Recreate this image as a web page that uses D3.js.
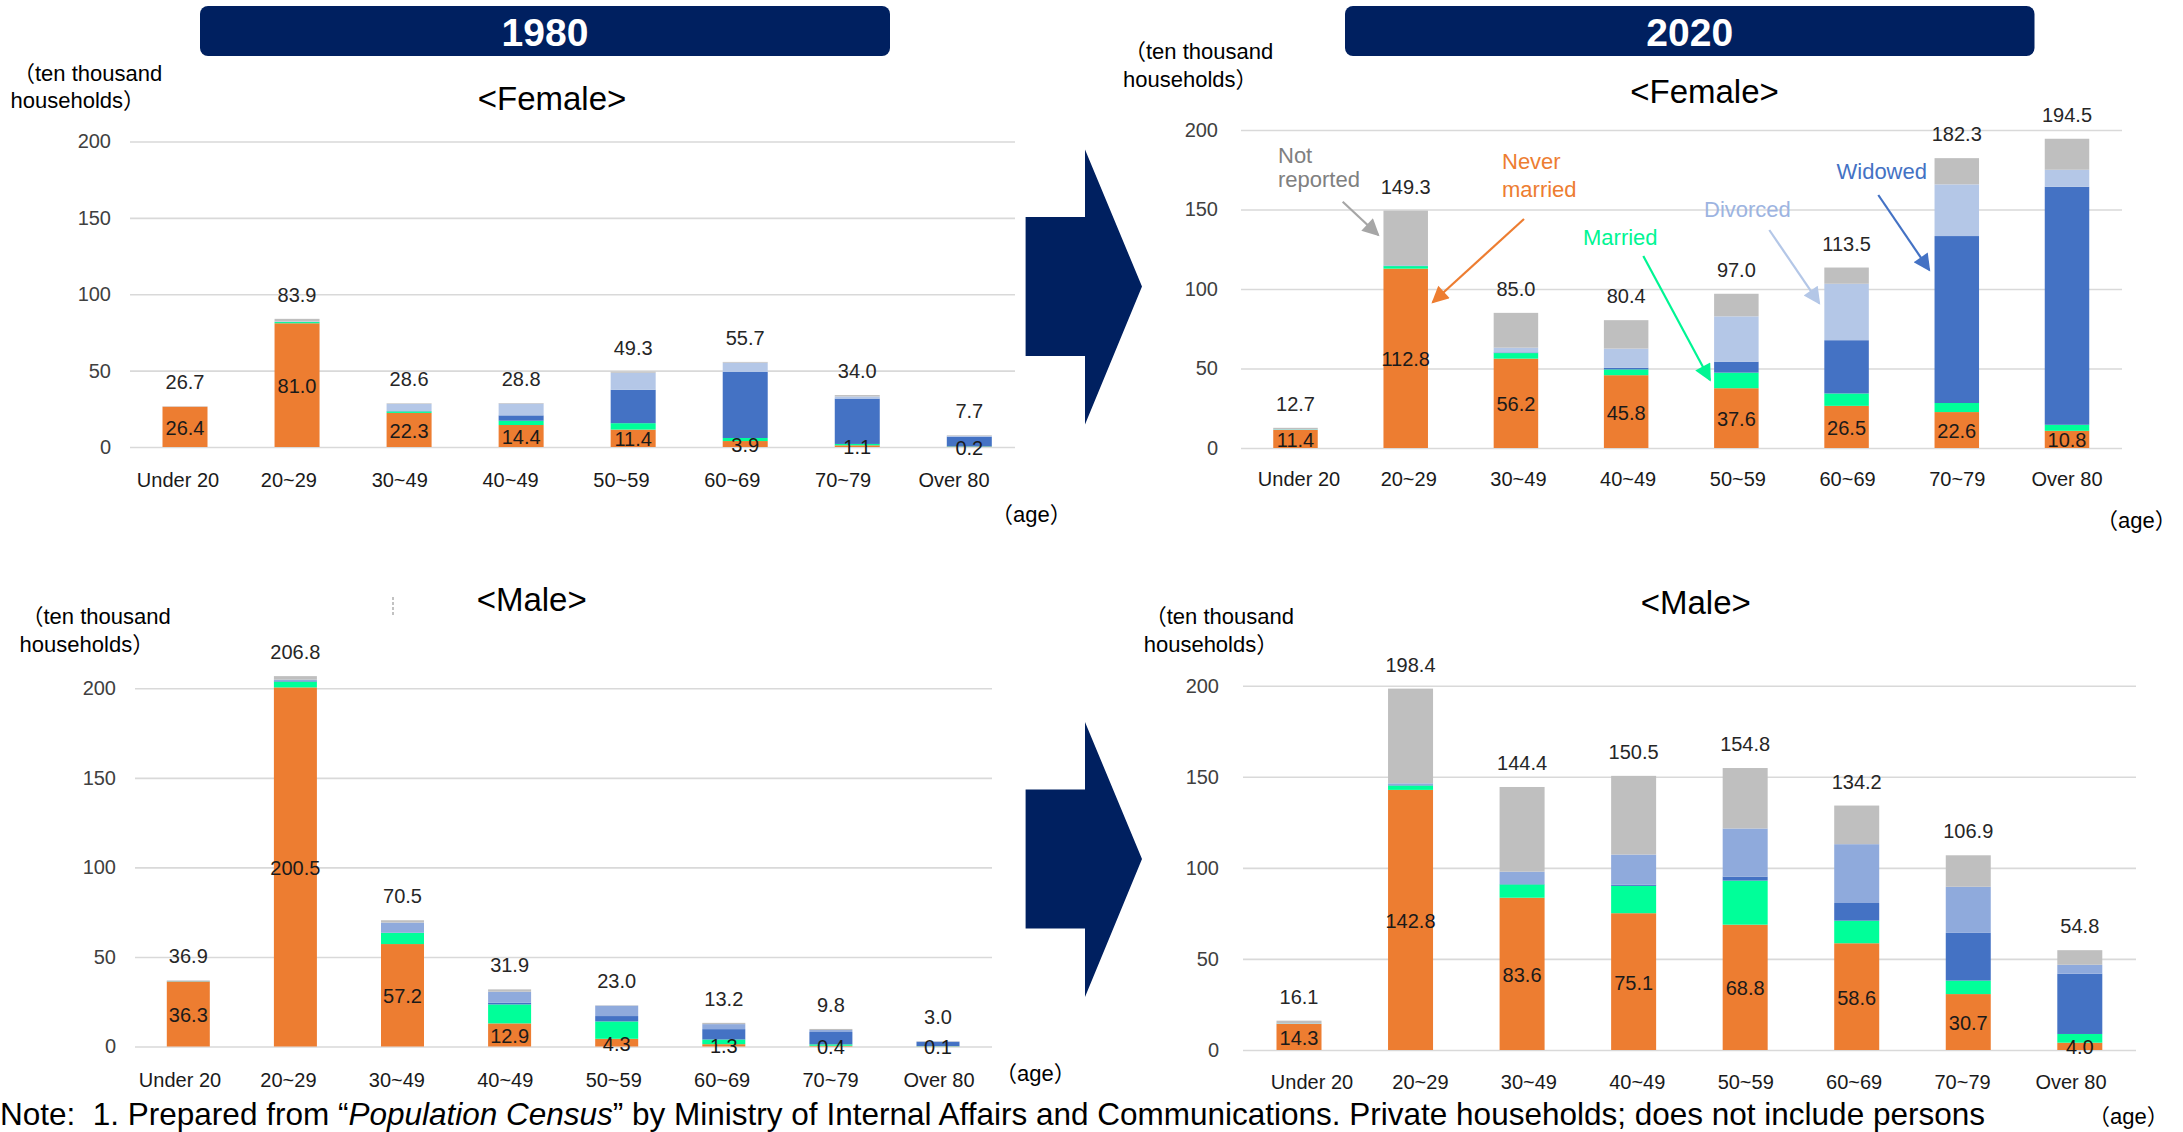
<!DOCTYPE html>
<html>
<head>
<meta charset="utf-8">
<script src="https://cdn.jsdelivr.net/npm/d3@7"></script>
<style>
  body { margin: 0; background: #fff; }
  text { font-family: 'Liberation Sans', Arial, 'Noto Sans CJK JP', sans-serif; }
</style>
</head>
<body>
<div id="chart"></div>
<script>
// categories
var ages = ["Under 20", "20~29", "30~49", "40~49", "50~59", "60~69", "70~79", "Over 80"];
var statuses = ["Never married", "Married", "Widowed", "Divorced", "Not reported"];
var yTicks = [0, 50, 100, 150, 200];

// 1980 female (ten thousand households)
var f1980NeverMarried = [26.4, 81.0, 22.3, 14.4, 11.4, 3.9, 1.1, 0.2];
var f1980Married      = [0.0, 0.8, 1.0, 2.8, 4.2, 2.0, 0.9, 0.2];
var f1980Widowed      = [0.0, 0.1, 0.2, 3.5, 21.8, 43.2, 29.7, 6.4];
var f1980Divorced     = [0.1, 0.3, 4.7, 7.7, 11.2, 6.1, 1.4, 0.5];
var f1980NotReported  = [0.2, 1.7, 0.4, 0.4, 0.7, 0.5, 0.9, 0.4];

// 2020 female
var f2020NeverMarried = [11.4, 112.8, 56.2, 45.8, 37.6, 26.5, 22.6, 10.8];
var f2020Married      = [0.2, 1.6, 3.5, 3.6, 9.8, 7.8, 5.7, 3.8];
var f2020Widowed      = [0.0, 0.3, 0.4, 1.1, 6.9, 33.5, 105.0, 149.7];
var f2020Divorced     = [0.3, 0.2, 3.0, 12.0, 28.5, 35.5, 32.5, 10.7];
var f2020NotReported  = [0.8, 34.4, 21.9, 17.9, 14.2, 10.2, 16.5, 19.5];

// 1980 male
var m1980NeverMarried = [36.3, 200.5, 57.2, 12.9, 4.3, 1.3, 0.4, 0.1];
var m1980Married      = [0.1, 3.2, 6.2, 10.6, 9.7, 2.6, 0.8, 0.1];
var m1980Widowed      = [0.0, 0.3, 0.2, 1.0, 3.0, 5.8, 6.9, 2.3];
var m1980Divorced     = [0.3, 0.8, 5.6, 6.1, 5.8, 2.8, 1.1, 0.3];
var m1980NotReported  = [0.2, 2.0, 1.3, 1.3, 0.2, 0.7, 0.6, 0.2];

// 2020 male
var m2020NeverMarried = [14.3, 142.8, 83.6, 75.1, 68.8, 58.6, 30.7, 4.0];
var m2020Married      = [0.1, 2.4, 7.3, 15.0, 24.2, 12.4, 7.4, 4.8];
var m2020Widowed      = [0.0, 0.2, 0.2, 0.7, 2.2, 9.7, 26.2, 33.1];
var m2020Divorced     = [0.2, 1.0, 6.8, 16.5, 26.4, 32.3, 25.3, 4.9];
var m2020NotReported  = [1.5, 52.0, 46.5, 43.2, 33.2, 21.2, 17.3, 8.0];

var navy = "#002060";
var colors = {"Never married": "#ED7D31", "Married": "#00FF99", "Widowed": "#4472C4", "Not reported": "#BFBFBF"};

var svg = d3.select("#chart").append("svg")
            .attr("width", 2183)
            .attr("height", 1132)
            .style("background", "white");

function rows(nm, ma, wi, di, nr){
  return ages.map(function(a, i){
    return {age: a, "Never married": nm[i], "Married": ma[i], "Widowed": wi[i], "Divorced": di[i], "Not reported": nr[i]};
  });
}

var panels = [
  {title: "<Female>", titleX: 552, titleY: 110, data: rows(f1980NeverMarried, f1980Married, f1980Widowed, f1980Divorced, f1980NotReported),
   y0: 447, y200: 141.5, bars: [185, 969.3], bw: 45, labels: [178, 954], labelY: 487, grid: [130, 1015], tickX: 111,
   unit: [13, 81, 10.5, 108], age: [991, 522], div: "#B4C7E7"},
  {title: "<Female>", titleX: 1704.5, titleY: 103, data: rows(f2020NeverMarried, f2020Married, f2020Widowed, f2020Divorced, f2020NotReported),
   y0: 448, y200: 130, bars: [1295.5, 2067], bw: 44.5, labels: [1299, 2067], labelY: 486, grid: [1241, 2122], tickX: 1218,
   unit: [1124, 59, 1123, 87], age: [2096, 528], div: "#B4C7E7"},
  {title: "<Male>", titleX: 531.7, titleY: 611, data: rows(m1980NeverMarried, m1980Married, m1980Widowed, m1980Divorced, m1980NotReported),
   y0: 1046.5, y200: 688.3, bars: [188.3, 938], bw: 43, labels: [180, 939], labelY: 1087, grid: [135, 992], tickX: 116,
   unit: [21.5, 624, 19.6, 652], age: [995, 1081], div: "#8FAADC"},
  {title: "<Male>", titleX: 1695.8, titleY: 614, data: rows(m2020NeverMarried, m2020Married, m2020Widowed, m2020Divorced, m2020NotReported),
   y0: 1050, y200: 685.7, bars: [1299, 2079.8], bw: 45, labels: [1312, 2071], labelY: 1089, grid: [1243, 2136], tickX: 1219,
   unit: [1144.7, 624, 1143.7, 652], age: [2088, 1124], div: "#8FAADC"}
];

function drawPanel(p){
  var g = svg.append("g");
  var y = d3.scaleLinear().domain([0, 200]).range([p.y0, p.y200]);
  var x = d3.scalePoint().domain(ages).range(p.bars);
  var xl = d3.scalePoint().domain(ages).range(p.labels);

  //gridlines + tick labels
  var axis = g.append("g")
              .attr("transform", "translate(" + p.grid[0] + ",0)")
              .call(d3.axisLeft(y).tickValues(yTicks)
                      .tickSize(-(p.grid[1] - p.grid[0]))
                      .tickPadding(p.grid[0] - p.tickX));
  axis.select(".domain").remove();
  axis.selectAll(".tick line").attr("stroke", "#D9D9D9").attr("stroke-width", 1.6);
  axis.selectAll(".tick text").attr("font-size", 20).attr("fill", "#404040")
      .attr("font-family", "'Liberation Sans', Arial, sans-serif");

  //stacked bars
  var series = d3.stack().keys(statuses)(p.data);
  g.selectAll("g.layer").data(series).enter().append("g")
     .attr("fill", function(d){ return d.key == "Divorced" ? p.div : colors[d.key]; })
     .selectAll("rect").data(function(d){ return d; }).enter().append("rect")
       .attr("x", function(d){ return x(d.data.age) - p.bw / 2; })
       .attr("width", p.bw)
       .attr("y", function(d){ return y(d[1]); })
       .attr("height", function(d){ return y(d[0]) - y(d[1]); });

  //never married values inside the orange part
  g.selectAll("text.nm").data(series[0]).enter().append("text")
     .attr("x", function(d){ return x(d.data.age); })
     .attr("y", function(d){ return (y(d[0]) + y(d[1])) / 2 + 1; })
     .attr("dy", "0.35em")
     .attr("text-anchor", "middle")
     .attr("font-size", 20)
     .attr("fill", "#1a1a1a")
     .text(function(d){ return d.data["Never married"].toFixed(1); });

  //totals
  g.selectAll("text.tot").data(p.data).enter().append("text")
     .attr("x", function(d){ return x(d.age); })
     .attr("y", function(d){ return y(d3.sum(statuses, function(k){ return d[k]; })) - 17; })
     .attr("text-anchor", "middle")
     .attr("font-size", 20)
     .attr("fill", "#262626")
     .text(function(d){ return d3.sum(statuses, function(k){ return d[k]; }).toFixed(1); });

  //category labels
  g.selectAll("text.cat").data(ages).enter().append("text")
     .attr("x", function(d){ return xl(d); })
     .attr("y", p.labelY)
     .attr("text-anchor", "middle")
     .attr("font-size", 20)
     .attr("fill", "#1a1a1a")
     .text(function(d){ return d; });

  //titles and units
  g.append("text").attr("x", p.titleX).attr("y", p.titleY)
     .attr("text-anchor", "middle").attr("font-size", 33).attr("fill", "#000")
     .text(p.title);
  g.append("text").attr("x", p.unit[0]).attr("y", p.unit[1])
     .attr("font-size", 22).attr("fill", "#000").text("（ten thousand");
  g.append("text").attr("x", p.unit[2]).attr("y", p.unit[3])
     .attr("font-size", 22).attr("fill", "#000").text("households）");
  g.append("text").attr("x", p.age[0]).attr("y", p.age[1])
     .attr("font-size", 22).attr("fill", "#000").text("（age）");
}

panels.forEach(drawPanel);

//year banners
var years = [{label: "1980", x: 200, w: 690}, {label: "2020", x: 1345, w: 689.5}];
var banner = svg.selectAll("g.banner").data(years).enter().append("g");
banner.append("rect")
      .attr("x", function(d){ return d.x; }).attr("y", 6)
      .attr("width", function(d){ return d.w; }).attr("height", 50)
      .attr("rx", 8).attr("fill", navy);
banner.append("text")
      .attr("x", function(d){ return d.x + d.w / 2; }).attr("y", 46)
      .attr("text-anchor", "middle").attr("font-size", 39).attr("font-weight", "bold")
      .attr("fill", "#fff").text(function(d){ return d.label; });

//big arrows between panels
[286.5, 859].forEach(function(cy){
  svg.append("polygon")
     .attr("points", [[1025.6, cy - 69.5], [1085, cy - 69.5], [1085, cy - 137], [1142, cy],
                      [1085, cy + 138], [1085, cy + 69.5], [1025.6, cy + 69.5]].join(" "))
     .attr("fill", navy);
});

//legend callouts on the 2020 female chart
var defs = svg.append("defs");
var callouts = [
  {lines: ["Not", "reported"], color: "#808080", arrow: "#A6A6A6", tx: 1278, ty: [162.5, 186.5], from: [1342.7, 201.7], to: [1378.3, 235]},
  {lines: ["Never", "married"], color: "#ED7D31", arrow: "#ED7D31", tx: 1502, ty: [169, 196.5], from: [1524, 219], to: [1432.7, 302.3]},
  {lines: ["Married"], color: "#00F593", arrow: "#00F593", tx: 1583, ty: [245], from: [1643.3, 256], to: [1710, 380]},
  {lines: ["Divorced"], color: "#9DB4E1", arrow: "#B4C7E7", tx: 1704, ty: [216.5], from: [1769.3, 230], to: [1819.3, 303.3]},
  {lines: ["Widowed"], color: "#4472C4", arrow: "#4472C4", tx: 1836.5, ty: [179], from: [1878.3, 195], to: [1929.3, 270]}
];
callouts.forEach(function(c, i){
  defs.append("marker")
      .attr("id", "head" + i)
      .attr("viewBox", "0 0 10 10")
      .attr("refX", 9).attr("refY", 5)
      .attr("markerUnits", "userSpaceOnUse")
      .attr("markerWidth", 20).attr("markerHeight", 17)
      .attr("orient", "auto")
      .append("path").attr("d", "M0,0 L10,5 L0,10 z").attr("fill", c.arrow);
  svg.append("line")
     .attr("x1", c.from[0]).attr("y1", c.from[1])
     .attr("x2", c.to[0]).attr("y2", c.to[1])
     .attr("stroke", c.arrow).attr("stroke-width", 2.2)
     .attr("marker-end", "url(#head" + i + ")");
  c.lines.forEach(function(t, j){
    svg.append("text").attr("x", c.tx).attr("y", c.ty[j])
       .attr("font-size", 22).attr("fill", c.color).text(t);
  });
});

//small stray mark in the 1980 male chart
svg.append("line").attr("x1", 393).attr("y1", 597).attr("x2", 393).attr("y2", 615)
   .attr("stroke", "#9a9a9a").attr("stroke-width", 1.2).attr("stroke-dasharray", "3,2");

//note at bottom
var note = svg.append("text").attr("x", 0).attr("y", 1125)
              .attr("font-size", 30).attr("fill", "#000")
              .style("white-space", "pre");
note.append("tspan").text("Note:  1. Prepared from \u201C");
note.append("tspan").attr("font-style", "italic").text("Population Census");
note.append("tspan").text("\u201D by Ministry of Internal Affairs and Communications. Private households; does not include persons");
var nw = note.node().getComputedTextLength();
note.attr("font-size", 30 * 1986 / nw);

console.log("chart drawn");
</script>
</body>
</html>
